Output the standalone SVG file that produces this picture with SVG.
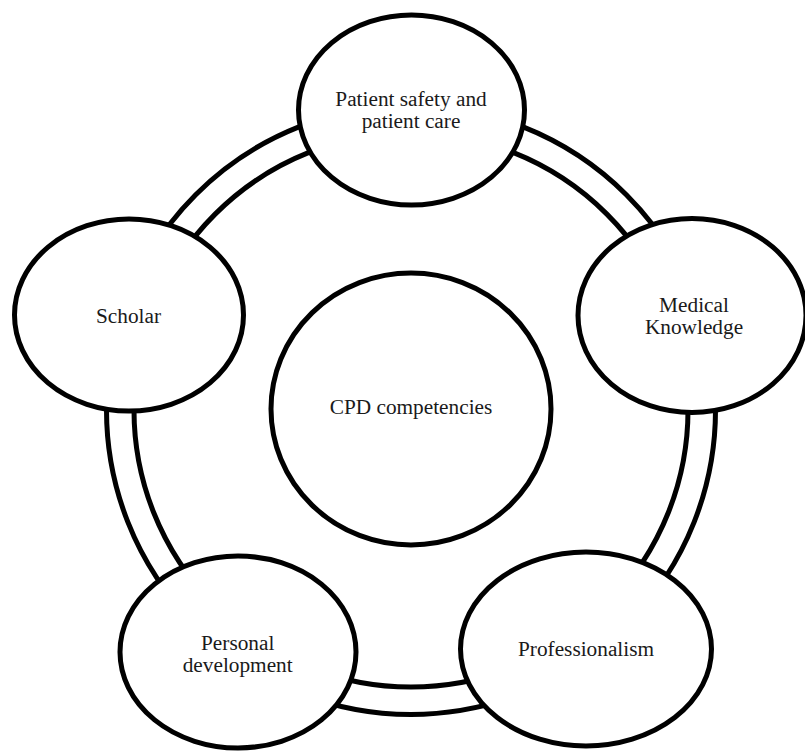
<svg xmlns="http://www.w3.org/2000/svg" width="805" height="751" viewBox="0 0 805 751">
<style>
.ring{fill:none;stroke:#000;stroke-width:5}
.node{fill:#fff;stroke:#000;stroke-width:5}
.lbl{font-family:"Liberation Serif","Times New Roman",serif;font-size:21.3px;fill:#1a1a1a;text-anchor:middle}
</style>
<rect width="805" height="751" fill="#fff"/>
<g id="connectors">
<circle class="ring" cx="411" cy="410" r="304.5"/>
<circle class="ring" cx="411" cy="410" r="277"/>
</g>
<g id="center">
<ellipse class="node" cx="411" cy="409" rx="140" ry="136"/>
<text class="lbl" x="411" y="414">CPD competencies</text>
</g>
<g id="patient-safety">
<ellipse class="node" cx="411.5" cy="110" rx="113" ry="95"/>
<text class="lbl" x="411" y="106">Patient safety and</text>
<text class="lbl" x="411" y="128">patient care</text>
</g>
<g id="medical-knowledge">
<ellipse class="node" cx="692" cy="315.5" rx="114" ry="97"/>
<text class="lbl" x="694" y="312">Medical</text>
<text class="lbl" x="694" y="334">Knowledge</text>
</g>
<g id="scholar">
<ellipse class="node" cx="129" cy="315" rx="114.5" ry="96"/>
<text class="lbl" x="128.5" y="323">Scholar</text>
</g>
<g id="personal-development">
<ellipse class="node" cx="238" cy="652" rx="118" ry="96"/>
<text class="lbl" x="237.7" y="650">Personal</text>
<text class="lbl" x="237.7" y="672">development</text>
</g>
<g id="professionalism">
<ellipse class="node" cx="586" cy="649" rx="125.5" ry="97"/>
<text class="lbl" x="586" y="656">Professionalism</text>
</g>
</svg>
